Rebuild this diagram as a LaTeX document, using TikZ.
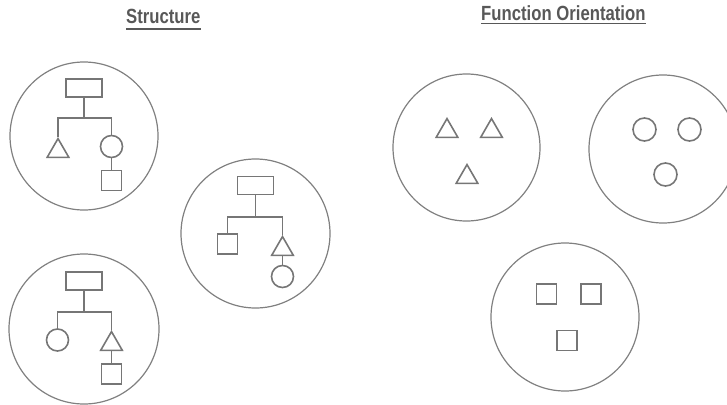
\documentclass[tikz,border=0pt]{standalone}
\usepackage{fontspec}
\setmainfont{Liberation Sans}
\usetikzlibrary{shapes.geometric}
\definecolor{linegray}{RGB}{118,118,118}
\definecolor{ringgray}{RGB}{128,128,128}
\definecolor{textgray}{RGB}{88,88,88}
\tikzset{
  ring/.style={circle, draw=ringgray, line width=1.2pt, inner sep=0pt, minimum size=#1},
  rectbox/.style={rectangle, draw=linegray, line width=1.6pt, inner sep=0pt, minimum width=36pt, minimum height=18pt},
  sqbox/.style={rectangle, draw=linegray, line width=1.6pt, inner sep=0pt, minimum width=20pt, minimum height=20pt},
  tribox/.style={regular polygon, regular polygon sides=3, draw=linegray, line width=1.6pt, inner sep=0pt, minimum size=25pt, anchor=corner 1},
  dotbox/.style={circle, draw=linegray, line width=1.6pt, inner sep=0pt, minimum size=22pt},
  wire/.style={draw=linegray, line width=1.6pt},
  title/.style={inner sep=0pt, anchor=base west, text=textgray, font=\fontsize{20.5pt}{24pt}\selectfont\bfseries},
  uline/.style={draw=textgray, line width=1.5pt}
}
\begin{document}
\begin{tikzpicture}[x=1pt,y=-1pt]
\useasboundingbox (0,0) rectangle (727,404);
\begin{scope}
\clip (0,0) rectangle (727,404);
% titles
\node[title] (st) at (126,24) {\scalebox{0.815}[1]{Structure}};
\draw[uline] ([yshift=-5pt]st.base west) -- ([yshift=-5pt]st.base east);
\node[title] (fo) at (481,20.7) {\scalebox{0.815}[1]{Function Orientation}};
\draw[uline] ([yshift=-2.7pt]fo.base west) -- ([yshift=-2.7pt]fo.base east);

% ---- Structure circle 1
\node[ring=148pt] (k1) at (84,136) {};
\node[rectbox] (r1) at (84,88) {};
\coordinate (j1) at (84,118);
\node[tribox] (t1) at (58,137) {};
\node[dotbox] (c1) at (111.5,146.5) {};
\node[sqbox] (s1) at (111.5,180.5) {};
\draw[wire] (r1.south) -- (j1);
\draw[wire] (t1.corner 1) |- (j1) -| (c1.north);
\draw[wire] (c1.south) -- (s1.north);

% ---- Structure circle 2
\node[ring=150pt] (k2) at (84,329) {};
\node[rectbox] (r2) at (84,281) {};
\coordinate (j2) at (84,312);
\node[dotbox] (c2) at (57.5,340) {};
\node[tribox] (t2) at (111.5,330) {};
\node[sqbox] (s2) at (111.5,374) {};
\draw[wire] (r2.south) -- (j2);
\draw[wire] (c2.north) |- (j2) -| (t2.corner 1);
\draw[wire] (t2.south) -- (s2.north);

% ---- Structure circle 3
\node[ring=149pt] (k3) at (255.5,233.5) {};
\node[rectbox] (r3) at (255.5,185.5) {};
\coordinate (j3) at (255.5,217);
\node[sqbox] (s3) at (227.5,244) {};
\node[tribox] (t3) at (282.5,235) {};
\node[dotbox] (c3) at (282.5,276.5) {};
\draw[wire] (r3.south) -- (j3);
\draw[wire] (s3.north) |- (j3) -| (t3.corner 1);
\draw[wire] (t3.south) -- (c3.north);

% ---- Function: triangles
\node[ring=147pt] (k4) at (466.5,147.5) {};
\node[tribox] (ta) at (447,117) {};
\node[tribox] (tb) at (491.5,117) {};
\node[tribox] (tc) at (467,163) {};

% ---- Function: circles
\node[ring=148pt] (k5) at (663,149) {};
\node[dotbox, minimum size=23pt] (ca) at (644.5,129.5) {};
\node[dotbox, minimum size=23pt] (cb) at (689.5,129.5) {};
\node[dotbox, minimum size=23pt] (cc) at (665.5,174.5) {};

% ---- Function: squares
\node[ring=148pt] (k6) at (565,317) {};
\node[sqbox] (sa) at (546.5,294) {};
\node[sqbox] (sb) at (591,294) {};
\node[sqbox] (sc) at (567,340.5) {};
\end{scope}
\end{tikzpicture}
\end{document}
